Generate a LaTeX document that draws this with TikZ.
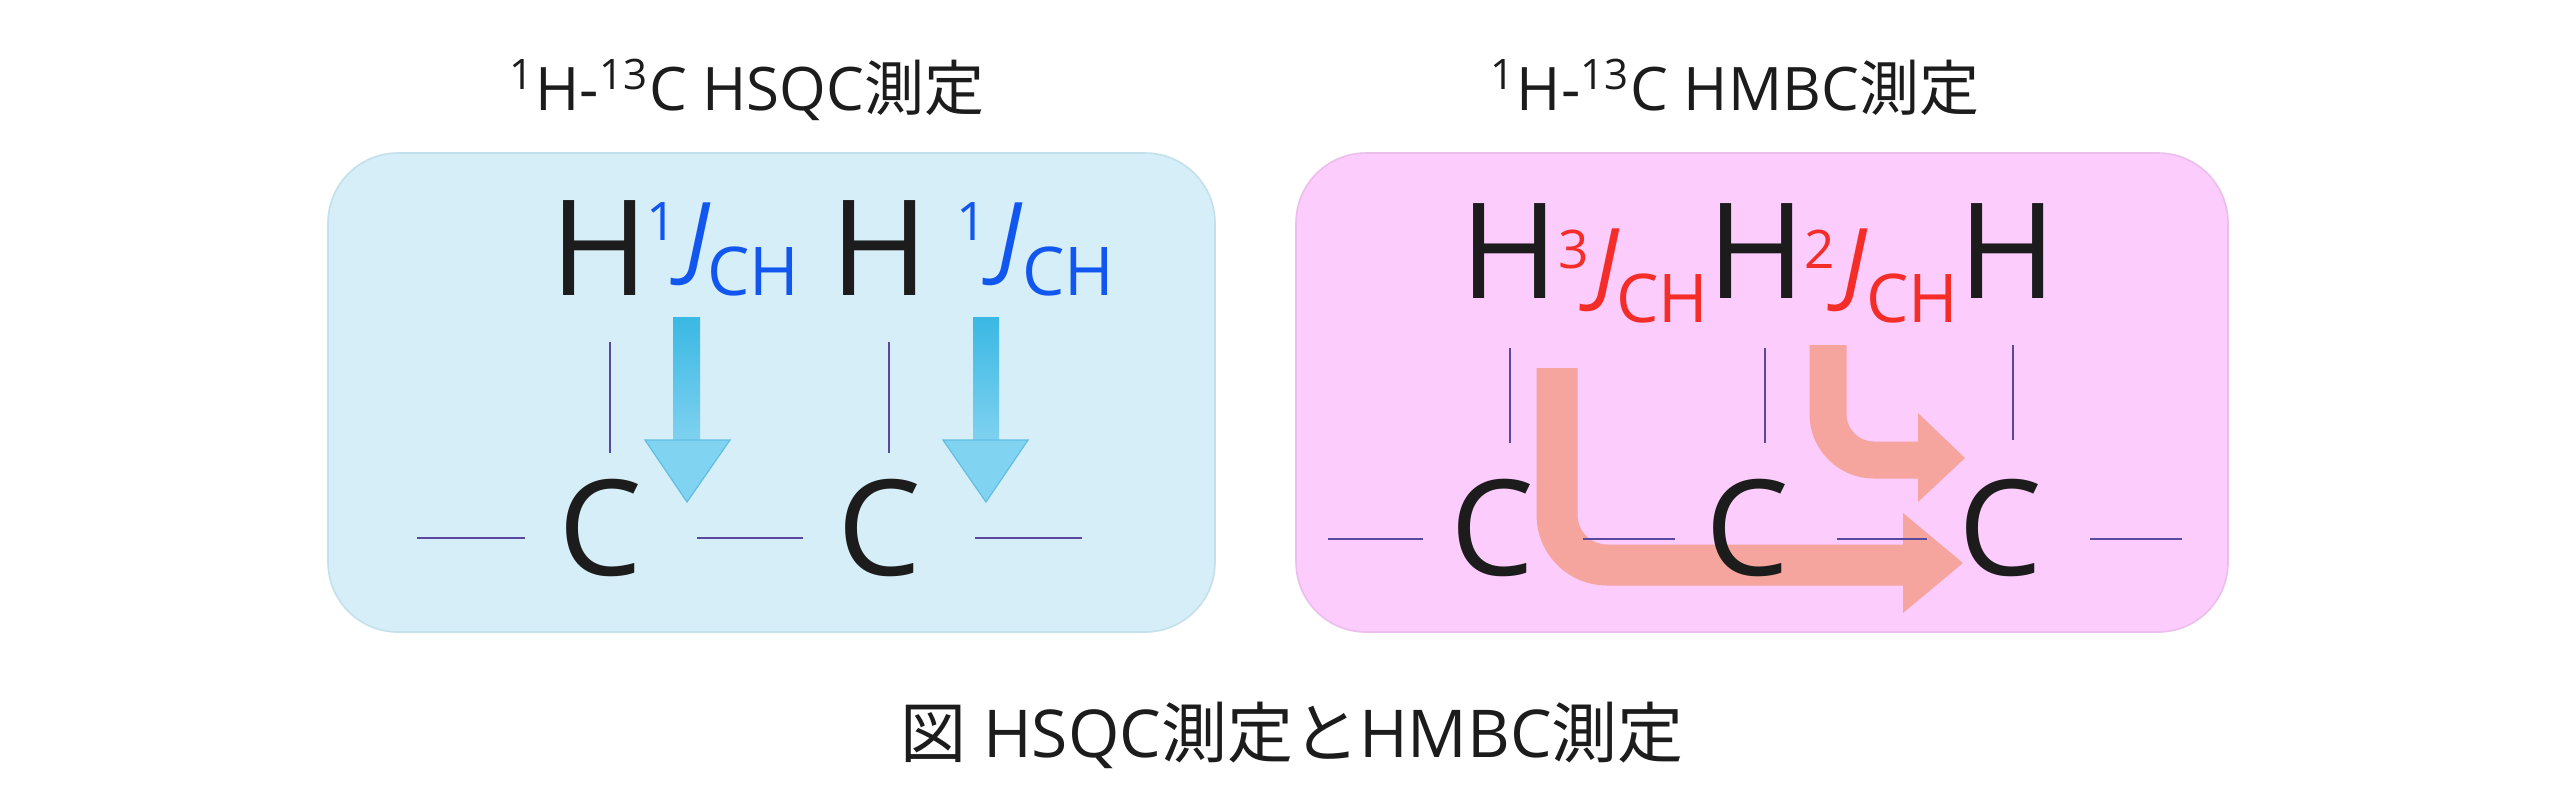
\documentclass[tikz,border=0pt]{standalone}
\usepackage{fontspec}
\setmainfont{Open Sans}
\newfontfamily\jp{Noto Sans CJK JP}
\definecolor{inkblack}{RGB}{28,28,28}
\definecolor{bluebox}{RGB}{214,238,248}
\definecolor{blueedge}{RGB}{196,224,236}
\definecolor{pinkbox}{RGB}{252,204,252}
\definecolor{pinkedge}{RGB}{236,190,236}
\definecolor{bondc}{RGB}{88,72,160}
\definecolor{jblue}{RGB}{18,86,240}
\definecolor{jred}{RGB}{245,45,40}
\definecolor{shafttop}{RGB}{58,184,228}
\definecolor{shaftbot}{RGB}{128,210,240}
\definecolor{headblue}{RGB}{128,212,242}
\definecolor{headedge}{RGB}{96,190,226}
\definecolor{salmon}{RGB}{246,164,158}
\begin{document}
\begin{tikzpicture}[x=0.25pt,y=-0.25pt,
  panel/.style={rounded corners=17.5pt, line width=0.4pt},
  atom/.style={font=\fontsize{33.25}{40}\selectfont, text=inkblack, inner sep=0, anchor=base},
  supnum/.style={font=\fontsize{13.3}{16}\selectfont, inner sep=0, anchor=base},
  jlet/.style={font=\fontsize{23}{27}\selectfont\itshape, inner sep=0, anchor=base},
  chsub/.style={font=\fontsize{16.8}{20}\selectfont, inner sep=0, anchor=base},
  heading/.style={font=\fontsize{15}{18}\selectfont, text=inkblack, inner sep=0, anchor=base},
  bond/.style={draw=bondc, line width=0.5pt},
  pinkarrow/.style={draw=salmon, line cap=butt},
]
\useasboundingbox (0,0) rectangle (2560,786);
\fill[white] (0,0) rectangle (2560,786);

% panels
\filldraw[panel, fill=bluebox, draw=blueedge] (328,153) rectangle (1215,632);
\filldraw[panel, fill=pinkbox, draw=pinkedge] (1296,153) rectangle (2228,632);

% headings
\node[heading] (t1) at (747,110) {\textsuperscript{1}H-\textsuperscript{13}C HSQC{\jp 測定}};
\node[heading] (t2) at (1735,110) {\textsuperscript{1}H-\textsuperscript{13}C HMBC{\jp 測定}};
\node[heading, font=\fontsize{16.5}{20}\selectfont] (cap) at (1292,757) {{\jp 図} HSQC{\jp 測定と}HMBC{\jp 測定}};

% ---------- HSQC panel ----------
% blue arrows
\shade[top color=shafttop, bottom color=shaftbot] (673,317) rectangle (700,442);
\filldraw[fill=headblue, draw=headedge, line width=0.3pt] (645,440) -- (730,440) -- (687,502) -- cycle;
\shade[top color=shafttop, bottom color=shaftbot] (973,317) rectangle (999,442);
\filldraw[fill=headblue, draw=headedge, line width=0.3pt] (943,440) -- (1028,440) -- (986,502) -- cycle;

% bonds
\draw[bond] (610,342) -- (610,453);
\draw[bond] (889,342) -- (889,453);
\draw[bond] (417,538) -- (525,538);
\draw[bond] (697,538) -- (803,538);
\draw[bond] (975,538) -- (1082,538);

% atoms
\node[atom] (h1) at (600,295) {H};
\node[atom] (h2) at (880,295) {H};
\node[atom] (c1) at (600,575) {C};
\node[atom] (c2) at (879,575) {C};

% coupling labels
\node[supnum, text=jblue] (s1) at (662,240) {1};
\node[jlet, text=jblue] (j1) at (698,268) {J};
\node[chsub, text=jblue] (ch1) at (753,295) {CH};
\node[supnum, text=jblue] (s2) at (972,240) {1};
\node[jlet, text=jblue] (j2) at (1010,268) {J};
\node[chsub, text=jblue] (ch2) at (1068,295) {CH};

% ---------- HMBC panel ----------
% salmon arrows
\draw[pinkarrow, line width=10.25pt, rounded corners=12.5pt] (1557,368) -- (1557,565) -- (1905,565);
\fill[salmon] (1903,513) -- (1963,563) -- (1903,613) -- cycle;
\draw[pinkarrow, line width=9.25pt, rounded corners=11.5pt] (1828,345) -- (1828,460) -- (1920,460);
\fill[salmon] (1918,413) -- (1965,458) -- (1918,502) -- cycle;

% bonds
\draw[bond] (1510,348) -- (1510,443);
\draw[bond] (1765,348) -- (1765,443);
\draw[bond] (2013,345) -- (2013,440);
\draw[bond] (1328,539) -- (1423,539);
\draw[bond] (1583,539) -- (1675,539);
\draw[bond] (1837,539) -- (1927,539);
\draw[bond] (2090,539) -- (2182,539);

% atoms
\node[atom] (ha) at (1510,298) {H};
\node[atom] (hb) at (1757,298) {H};
\node[atom] (hc) at (2008,298) {H};
\node[atom] (ca) at (1492,575) {C};
\node[atom] (cb) at (1747,575) {C};
\node[atom] (cc) at (2000,575) {C};

% coupling labels
\node[supnum, text=jred] (s3) at (1574,268) {3};
\node[jlet, text=jred] (j3) at (1607,294) {J};
\node[chsub, text=jred] (ch3) at (1662,322) {CH};
\node[supnum, text=jred] (s4) at (1820,268) {2};
\node[jlet, text=jred] (j4) at (1855,294) {J};
\node[chsub, text=jred] (ch4) at (1912,322) {CH};
\end{tikzpicture}
\end{document}
